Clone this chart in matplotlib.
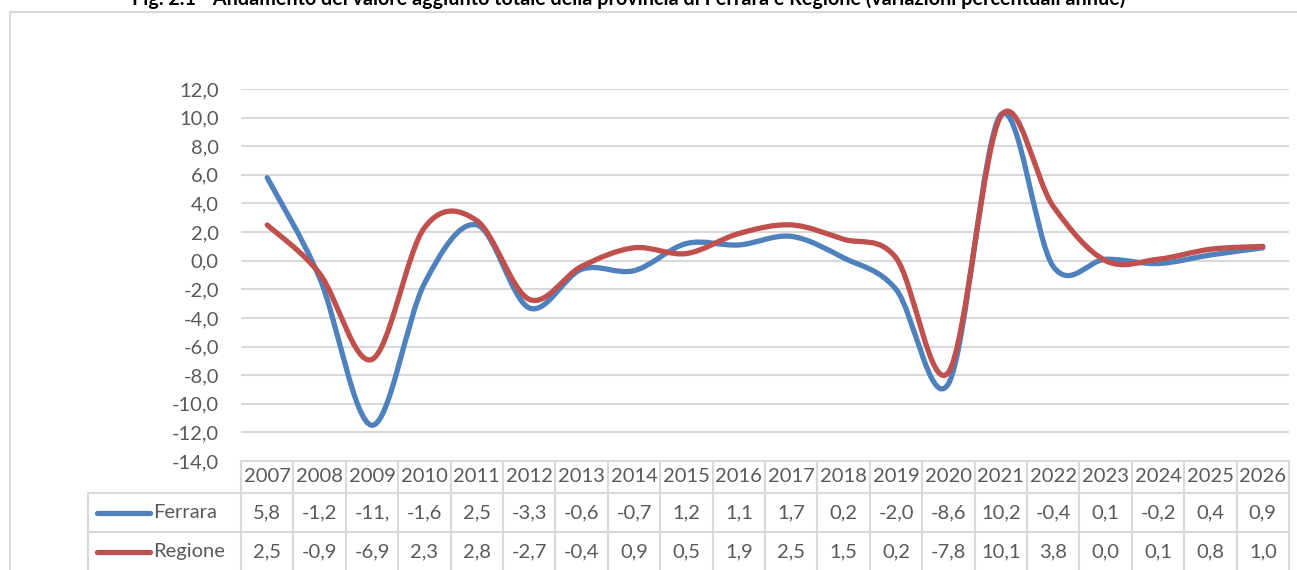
import matplotlib
matplotlib.use("Agg")
import matplotlib.pyplot as plt
from matplotlib.path import Path
from matplotlib.patches import PathPatch, Rectangle
from matplotlib.lines import Line2D
import matplotlib.transforms as mtransforms
from matplotlib.ticker import FuncFormatter

years = ["2007", "2008", "2009", "2010", "2011", "2012", "2013", "2014", "2015", "2016",
         "2017", "2018", "2019", "2020", "2021", "2022", "2023", "2024", "2025", "2026"]
ferrara = [5.8, -1.2, -11.5, -1.6, 2.5, -3.3, -0.6, -0.7, 1.2, 1.1,
           1.7, 0.2, -2.0, -8.6, 10.2, -0.4, 0.1, -0.2, 0.4, 0.9]
regione = [2.5, -0.9, -6.9, 2.3, 2.8, -2.7, -0.4, 0.9, 0.5, 1.9,
           2.5, 1.5, 0.2, -7.8, 10.1, 3.8, 0.0, 0.1, 0.8, 1.0]
series_names = ["Ferrara", "Regione"]
series_colors = ["#4F81BD", "#C0504D"]
title = "Fig. 2.1 - Andamento del valore aggiunto totale della provincia di Ferrara e Regione (variazioni percentuali annue)"

W, H = 1297, 570
plt.rcParams['font.family'] = ['Lato', 'DejaVu Sans']
TXT = "#595959"
GRID = "#D9D9D9"
FS = 14.5

fig = plt.figure(figsize=(W / 100, H / 100), dpi=100)

def fx(px):
    return px / W

def fy(py):
    return 1 - py / H

# outer chart border
fig.patches.append(Rectangle((fx(10), fy(600)), fx(1320) - fx(10), fy(12) - fy(600),
                             transform=fig.transFigure, fill=False, edgecolor=GRID, lw=1.5))
fig.text(fx(629), fy(5), title, ha='center', va='baseline', fontsize=14.2,
         fontweight='bold', color='black')

ax_l, ax_r, ax_t, ax_b = 241, 1289, 89, 461
ax = fig.add_axes([fx(ax_l), fy(ax_b), fx(ax_r) - fx(ax_l), fy(ax_t) - fy(ax_b)])
n = len(years)
ax.set_xlim(-0.5, n - 0.5)
ax.set_ylim(-14, 12)
for s in ax.spines.values():
    s.set_visible(False)
ax.set_xticks([])
ax.set_yticks(list(range(-14, 13, 2)))
ax.yaxis.set_major_formatter(FuncFormatter(lambda v, p: f"{v:.1f}".replace('.', ',')))
ax.tick_params(axis='y', length=0, pad=16, labelsize=FS, labelcolor=TXT)
for v in range(-12, 13, 2):
    ax.axhline(v, color=GRID, lw=1.5, zorder=0)

def smooth_path(vals):
    pts = list(enumerate(vals))
    verts = [pts[0]]
    codes = [Path.MOVETO]
    m = len(pts)
    for i in range(m - 1):
        p0 = pts[i - 1] if i > 0 else pts[i]
        p1 = pts[i]
        p2 = pts[i + 1]
        p3 = pts[i + 2] if i + 2 < m else pts[i + 1]
        c1 = (p1[0] + (p2[0] - p0[0]) / 6, p1[1] + (p2[1] - p0[1]) / 6)
        c2 = (p2[0] - (p3[0] - p1[0]) / 6, p2[1] - (p3[1] - p1[1]) / 6)
        verts += [c1, c2, p2]
        codes += [Path.CURVE4] * 3
    return Path(verts, codes)

for vals, col in zip([ferrara, regione], series_colors):
    ax.add_patch(PathPatch(smooth_path(vals), fill=False, edgecolor=col, lw=3.8,
                           capstyle='round', joinstyle='round', zorder=3))

# data table
tr = mtransforms.blended_transform_factory(ax.transData, fig.transFigure)
label_left = 88
fig.add_artist(Line2D([-0.5, n - 0.5], [fy(461)] * 2, transform=tr, color=GRID, lw=1.5))
for y in [493, 532]:
    fig.add_artist(Line2D([fx(label_left), fx(ax_r)], [fy(y)] * 2,
                          transform=fig.transFigure, color=GRID, lw=1.5))
for i in range(n + 1):
    fig.add_artist(Line2D([i - 0.5] * 2, [fy(461), fy(575)], transform=tr, color=GRID, lw=1.5))
fig.add_artist(Line2D([fx(label_left)] * 2, [fy(493), fy(575)],
                      transform=fig.transFigure, color=GRID, lw=1.5))

yc = [477, 513, 552]
for i, yr in enumerate(years):
    fig.text(i, fy(yc[0]), yr, transform=tr, ha='center', va='center', fontsize=FS, color=TXT)
for r, (vals, name, col) in enumerate(zip([ferrara, regione], series_names, series_colors)):
    y = yc[r + 1]
    fig.add_artist(Line2D([fx(97), fx(150)], [fy(y)] * 2, transform=fig.transFigure,
                          color=col, lw=3.8, solid_capstyle='round'))
    fig.text(fx(153), fy(y), name, ha='left', va='center', fontsize=FS, color=TXT)
    for i, v in enumerate(vals):
        s = f"{v:.1f}".replace('.', ',')[:4]
        fig.text(i, fy(y), s, transform=tr, ha='center', va='center', fontsize=FS, color=TXT)

fig.savefig("out.png", dpi=100)
